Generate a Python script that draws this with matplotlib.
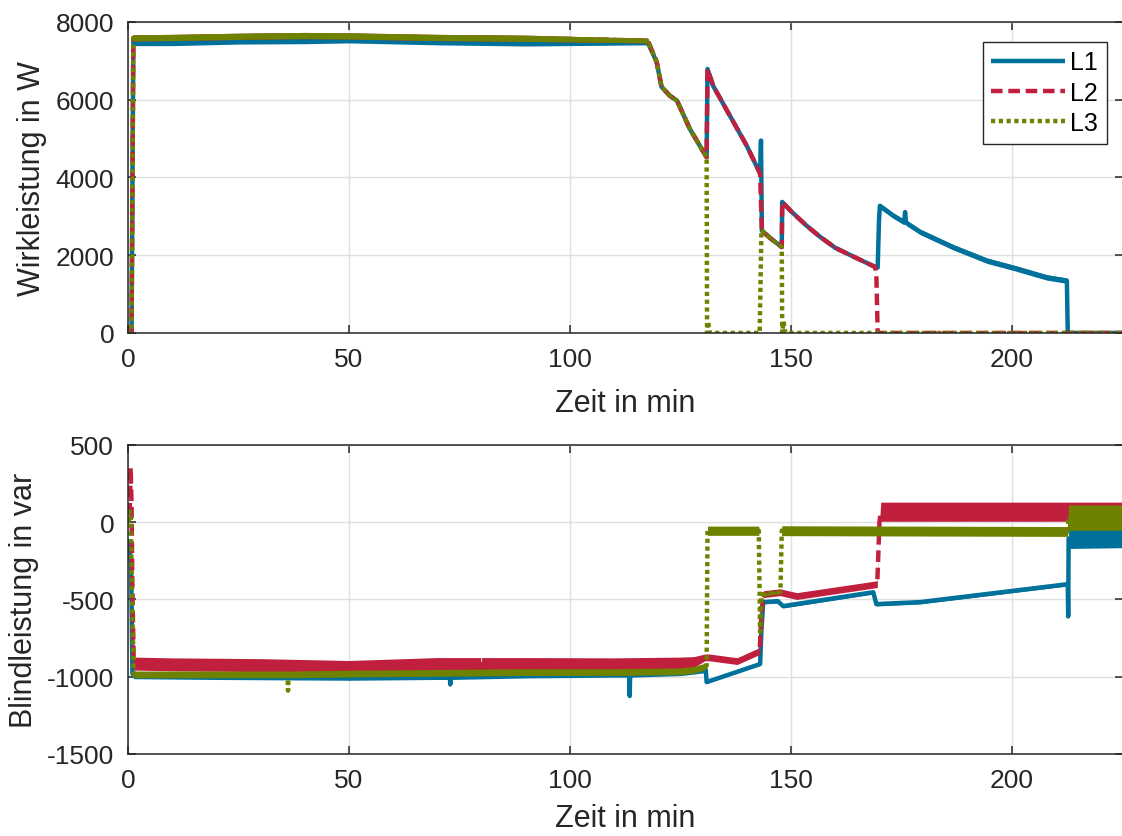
import numpy as np
import matplotlib
matplotlib.use("Agg")
import matplotlib.pyplot as plt

# ---------------------------------------------------------------------------
# Wirkleistung (W) per phase: time [min], value, noise half-width
# ---------------------------------------------------------------------------
p1_t = [0.0, 0.8, 1.2, 10, 25, 40, 50, 70, 90, 117.6, 119.6, 120.7, 122.6, 124.2,
        127.1, 130.9, 131.1, 132.4, 136.2, 140.0, 143.0, 143.2, 143.4, 145.5, 147.9,
        148.0, 150.0, 153.5, 156.6, 160.0, 164.0, 169.0, 169.6, 169.9, 170.1, 173.1,
        175.6, 175.8, 176.0, 179.2, 186.7, 194.3, 200.7, 207.8, 212.4, 212.6, 225.0]
p1_v = [0, 0, 7470, 7470, 7510, 7520, 7540, 7490, 7460, 7470, 6970, 6330, 6100, 5975,
        5250, 4520, 6790, 6350, 5580, 4810, 4100, 4950, 2630, 2420, 2210,
        3370, 3130, 2760, 2470, 2190, 1970, 1700, 1680, 2900, 3270, 3020,
        2850, 3110, 2840, 2600, 2205, 1860, 1665, 1430, 1345, 0, 0]
p1_n = [0, 0, 80, 80, 80, 80, 80, 80, 80, 60, 30, 30, 30, 30,
        30, 30, 35, 35, 35, 35, 35, 0, 35, 35, 35,
        35, 35, 35, 35, 35, 35, 35, 35, 50, 70, 70,
        70, 70, 70, 70, 70, 70, 70, 70, 70, 0, 0]

p2_t = [0.0, 0.8, 1.2, 10, 25, 40, 50, 70, 90, 117.6, 119.6, 120.7, 122.6, 124.2,
        127.1, 130.9, 131.1, 132.4, 136.2, 140.0, 143.0, 143.4, 145.5, 147.9,
        148.0, 150.0, 153.5, 156.6, 160.0, 164.0, 169.0, 169.3, 169.6, 225.0]
p2_v = [0, 0, 7590, 7600, 7630, 7650, 7640, 7600, 7580, 7520, 6970, 6330, 6100, 5975,
        5250, 4520, 6790, 6350, 5580, 4810, 4100, 2630, 2420, 2210,
        3370, 3130, 2760, 2470, 2190, 1970, 1700, 1500, 0, 0]
p2_n = [0, 0, 80, 80, 80, 80, 80, 80, 80, 60, 30, 30, 30, 30,
        30, 30, 30, 30, 30, 30, 30, 30, 30, 30,
        30, 30, 30, 30, 30, 30, 30, 0, 0, 0]

p3_t = [0.0, 0.8, 1.2, 10, 25, 40, 50, 70, 90, 117.6, 119.6, 120.7, 122.6, 124.2,
        127.1, 130.9, 131.0, 131.2, 131.6, 142.9, 143.3, 145.5, 147.9, 148.0,
        148.3, 148.7, 225.0]
p3_v = [0, 0, 7590, 7600, 7630, 7650, 7640, 7600, 7580, 7520, 6970, 6330, 6100, 5975,
        5250, 4520, 0, 300, 0, 0, 2650, 2420, 2210, 0,
        300, 0, 0]
p3_n = [0, 0, 80, 80, 80, 80, 80, 80, 80, 60, 30, 30, 30, 30,
        30, 30, 0, 0, 0, 0, 30, 30, 30, 0,
        0, 0, 0]

# ---------------------------------------------------------------------------
# Blindleistung (var) per phase: time [min], value, noise half-width
# ---------------------------------------------------------------------------
q1_t = [0.3, 0.7, 1.0, 1.3, 20, 50, 70, 72.8, 72.9, 73.0, 90, 110, 113.4, 113.5,
        113.6, 125, 128, 130.7, 130.9, 143.0, 143.3, 143.7, 147.0, 148.2, 150.0,
        168.6, 169.3, 179.2, 212.6, 212.7, 212.8, 225.0]
q1_v = [-110, -300, -980, -995, -1000, -1005, -1000, -1000, -1050, -1000, -990, -985,
        -985, -1125, -985, -975, -965, -955, -1035, -918, -700, -517, -511, -543, -535,
        -453, -530, -517, -401, -610, -105, -100]
q1_n = [0, 0, 0, 18, 18, 18, 18, 18, 0, 18, 18, 18, 18, 0,
        18, 18, 18, 18, 8, 8, 0, 12, 12, 12, 12,
        12, 12, 12, 12, 0, 65, 65]

q2_t = [0.2, 0.4, 0.6, 0.8, 1.0, 1.3, 10, 30, 50, 70, 79.8, 79.9, 80.0, 90, 110,
        125, 128, 130.5, 131.5, 137.8, 142.9, 143.3, 143.7, 147.5, 151.3, 169.5,
        170.0, 170.3, 225.0]
q2_v = [50, 100, 355, 100, -450, -915, -920, -925, -937, -918, -918, -1000, -918,
        -918, -920, -915, -905, -875, -875, -899, -834, -600, -466, -453, -478, -401,
        0, 68, 68]
q2_n = [0, 0, 0, 0, 0, 42, 42, 42, 42, 42, 42, 0, 42, 42, 42,
        42, 35, 22, 22, 22, 22, 0, 22, 22, 22, 22,
        0, 62, 62]

q3_t = [0.2, 0.4, 0.6, 0.8, 1.0, 1.3, 30, 36.1, 36.2, 36.3, 50, 70, 90, 110, 125,
        128, 130.5, 130.9, 131.1, 142.7, 143.0, 143.3, 147.6, 147.9, 212.5, 212.8,
        225.0]
q3_v = [0, 70, 60, -300, -600, -985, -985, -985, -1090, -985, -980, -975, -970,
        -970, -965, -955, -935, -930, -55, -55, -711, -470, -450, -55, -60, 30, 30]
q3_n = [0, 0, 0, 0, 0, 22, 22, 22, 0, 22, 22, 22, 22, 22, 22,
        22, 22, 0, 30, 30, 0, 10, 10, 32, 32, 82, 82]

labels = ["L1", "L2", "L3"]
colors = ["#00719A", "#C01F3E", "#6E8200"]
styles = ["-", (0, (2.6, 1.3)), (0, (0.95, 0.8))]

x_lim = (0, 225)
x_ticks = [0, 50, 100, 150, 200]
p_lim = (0, 8000)
p_ticks = [0, 2000, 4000, 6000, 8000]
q_lim = (-1500, 500)
q_ticks = [-1500, -1000, -500, 0, 500]

plt.rcParams["font.family"] = ["Liberation Sans", "DejaVu Sans"]
plt.rcParams["axes.unicode_minus"] = False

TXT = "#262626"
LW = 3.2

fig = plt.figure(figsize=(11.22, 8.37), dpi=100)
ax_p = fig.add_axes([0.1141, 0.6010, 0.8864, 0.3716])
ax_q = fig.add_axes([0.1141, 0.0980, 0.8864, 0.3692])


def draw_phase(ax, t, v, n, color, ls, z, label=None):
    t = np.asarray(t, float)
    v = np.asarray(v, float)
    n = np.asarray(n, float)
    # noise envelope and the trace itself share one stacking level per phase
    ax.fill_between(t, v - n, v + n, color=color, linewidth=0, zorder=z)
    line, = ax.plot(t, v, color=color, linestyle=ls, linewidth=LW,
                    dash_capstyle="butt", solid_capstyle="butt",
                    label=label, zorder=z + 0.1)
    return line


handles = []
for i, ((t, v, n), c, s, lab) in enumerate(zip(
        [(p1_t, p1_v, p1_n), (p2_t, p2_v, p2_n), (p3_t, p3_v, p3_n)],
        colors, styles, labels)):
    handles.append(draw_phase(ax_p, t, v, n, c, s, 2 + i, lab))
for i, ((t, v, n), c, s) in enumerate(zip(
        [(q1_t, q1_v, q1_n), (q2_t, q2_v, q2_n), (q3_t, q3_v, q3_n)],
        colors, styles)):
    draw_phase(ax_q, t, v, n, c, s, 2 + i)

for ax, ylim, yticks, ylabel, xpad in [(ax_p, p_lim, p_ticks, "Wirkleistung in W", 12),
                                       (ax_q, q_lim, q_ticks, "Blindleistung in var", 8)]:
    ax.set_xlim(*x_lim)
    ax.set_ylim(*ylim)
    ax.set_xticks(x_ticks)
    ax.set_yticks(yticks)
    ax.grid(True, color="#DFDFDF", linewidth=1.0)
    ax.set_axisbelow(True)
    ax.tick_params(direction="in", length=6, width=1.1, colors=TXT,
                   labelsize=19, pad=10, top=True, right=True)
    for sp in ax.spines.values():
        sp.set_color(TXT)
        sp.set_linewidth(1.1)
        sp.set_zorder(10)
    ax.set_xlabel("Zeit in min", fontsize=22, color=TXT, labelpad=xpad)
    ax.set_ylabel(ylabel, fontsize=22, color=TXT, labelpad=6)

leg = ax_p.legend(handles=handles, loc="upper right", bbox_to_anchor=(0.984, 0.937),
                  fontsize=18, frameon=True, fancybox=False, framealpha=1,
                  edgecolor=TXT, handlelength=2.95, handletextpad=0.2,
                  labelspacing=0.25, borderpad=0.35, borderaxespad=0)
leg.get_frame().set_linewidth(1.0)
leg.set_zorder(20)

fig.savefig("out.png", dpi=100)
